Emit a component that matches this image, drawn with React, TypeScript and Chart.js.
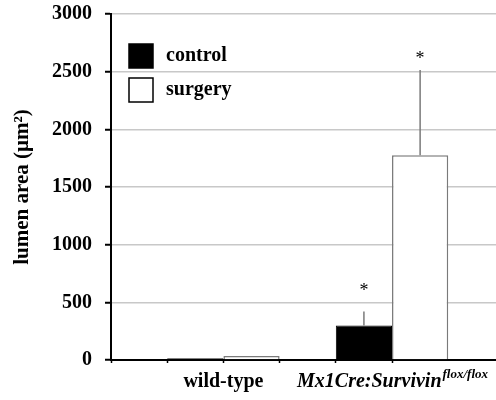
import { useEffect, useRef } from 'react';
import { Chart, registerables } from 'chart.js';

Chart.register(...registerables);

// ---- data ----
const categories = ['wild-type', 'Mx1Cre:Survivin'];
const categorySuperscripts = ['', 'flox/flox'];
const seriesNames = ['control', 'surgery'];
const controlValues = [15, 300];
const surgeryValues = [35, 1775];
const controlErrors = [0, 120];
const surgeryErrors = [0, 740];
// value (in µm²) at which a significance asterisk is placed; null = none
const controlStars: (number | null)[] = [null, 595];
const surgeryStars: (number | null)[] = [null, 2610];
const yMin = 0;
const yMax = 3000;
const yStep = 500;

const FONT = "'Liberation Serif', 'Times New Roman', serif";
const errorSets = [controlErrors, surgeryErrors];
const starSets = [controlStars, surgeryStars];
const legendStroke = '#000000';

// each category occupies 3 slot units on the x scale, group centred at 2 + 3*i
const groupX = (i: number) => 2 + 3 * i;

const errorBarPlugin = {
  id: 'errorBars',
  afterDatasetsDraw(chart: any) {
    const { ctx } = chart;
    const y = chart.scales.y;
    chart.data.datasets.forEach((ds: any, d: number) => {
      const meta = chart.getDatasetMeta(d);
      meta.data.forEach((el: any, i: number) => {
        const v = ds.data[i].y;
        const err = errorSets[d][i];
        ctx.save();
        if (err > 0) {
          ctx.strokeStyle = '#7a7a7a';
          ctx.lineWidth = 1.5;
          ctx.beginPath();
          ctx.moveTo(el.x, el.y);
          ctx.lineTo(el.x, y.getPixelForValue(v + err));
          ctx.stroke();
        }
        const s = starSets[d][i];
        if (s !== null && s !== undefined) {
          ctx.fillStyle = '#000';
          ctx.font = `18px ${FONT}`;
          ctx.textAlign = 'center';
          ctx.textBaseline = 'middle';
          ctx.fillText('*', el.x, y.getPixelForValue(s));
        }
        ctx.restore();
      });
    });
  },
};

const supLabelPlugin = {
  id: 'supLabels',
  afterDraw(chart: any) {
    const { ctx } = chart;
    const xs = chart.scales.x;
    const opts = xs.options;
    const yMid = xs.top + opts.grid.tickLength + opts.ticks.padding + 12;
    categories.forEach((c, i) => {
      const sup = categorySuperscripts[i];
      if (!sup) return;
      const cx = xs.getPixelForValue(groupX(i));
      ctx.save();
      ctx.fillStyle = '#000';
      ctx.textBaseline = 'middle';
      ctx.textAlign = 'left';
      ctx.font = `italic bold 20px ${FONT}`;
      const w1 = ctx.measureText(c).width;
      ctx.font = `italic bold 13px ${FONT}`;
      const w2 = ctx.measureText(sup).width;
      const start = cx - (w1 + w2) / 2;
      ctx.font = `italic bold 20px ${FONT}`;
      ctx.fillText(c, start, yMid);
      ctx.font = `italic bold 13px ${FONT}`;
      ctx.fillText(sup, start + w1 + 1, yMid - 7);
      ctx.restore();
    });
  },
};

// legend drawn inside the plot area, top-left, as in the original figure
const insideLegendPlugin = {
  id: 'insideLegend',
  afterDraw(chart: any) {
    const { ctx, chartArea } = chart;
    const box = 24;
    const rowGap = 34;
    const x0 = chartArea.left + 18;
    const y0 = chartArea.top + 30;
    chart.data.datasets.forEach((ds: any, i: number) => {
      const y = y0 + i * rowGap;
      ctx.save();
      ctx.fillStyle = ds.backgroundColor;
      ctx.fillRect(x0, y, box, box);
      ctx.strokeStyle = legendStroke;
      ctx.lineWidth = 1.5;
      ctx.strokeRect(x0, y, box, box);
      ctx.fillStyle = '#000';
      ctx.font = `bold 20px ${FONT}`;
      ctx.textAlign = 'left';
      ctx.textBaseline = 'middle';
      ctx.fillText(ds.label, x0 + box + 13, y + box / 2);
      ctx.restore();
    });
  },
};

export default function App() {
  const ref = useRef<HTMLCanvasElement | null>(null);
  useEffect(() => {
    if (!ref.current) return;
    const chart = new Chart(ref.current, {
      type: 'bar',
      data: {
        datasets: [
          {
            label: seriesNames[0],
            data: controlValues.map((v, i) => ({ x: groupX(i), y: v })),
            backgroundColor: '#000000',
            borderColor: '#000000',
            borderWidth: 1,
          },
          {
            label: seriesNames[1],
            data: surgeryValues.map((v, i) => ({ x: groupX(i), y: v })),
            backgroundColor: '#ffffff',
            borderColor: '#7a7a7a',
            borderWidth: 1.5,
          },
        ],
      },
      options: {
        animation: false,
        responsive: true,
        maintainAspectRatio: false,
        categoryPercentage: 2,
        barPercentage: 1,
        layout: { padding: { top: 14, bottom: 0, left: 0, right: 0 } },
        plugins: {
          tooltip: { enabled: false },
          legend: { display: false },
        },
        scales: {
          x: {
            type: 'linear',
            offset: false,
            min: 0,
            max: 6.85,
            afterBuildTicks: (s: any) => {
              s.ticks = s.ticks.filter((t: any) => Number.isInteger(t.value));
            },
            afterFit: (s: any) => {
              s.paddingLeft = 0;
              s.paddingRight = 0;
            },
            ticks: {
              stepSize: 1,
              autoSkip: false,
              maxRotation: 0,
              padding: 6.5,
              color: '#000',
              font: { family: FONT, size: 20, weight: 'bold' },
              callback: (v: any) => {
                const i = (Number(v) - 2) / 3;
                if (Number.isInteger(i) && i >= 0 && i < categories.length && !categorySuperscripts[i]) {
                  return categories[i];
                }
                return '';
              },
            },
            grid: {
              offset: false,
              drawOnChartArea: false,
              drawTicks: true,
              tickLength: 3,
              tickColor: '#000',
              tickWidth: 1.5,
            },
            border: { color: '#000', width: 2 },
          },
          y: {
            min: yMin,
            max: yMax,
            afterFit: (s: any) => {
              s.paddingTop = 0;
              s.paddingBottom = 0;
            },
            ticks: {
              stepSize: yStep,
              padding: 13,
              color: '#000',
              font: { family: FONT, size: 20, weight: 'bold' },
              callback: (v: any) => String(v),
            },
            grid: {
              color: '#c8c8c8',
              lineWidth: 1.5,
              tickLength: 6,
              tickColor: '#000',
              tickWidth: 2,
            },
            border: { color: '#000', width: 2 },
            title: {
              display: true,
              text: 'lumen area (µm²)',
              color: '#000',
              font: { family: FONT, size: 21, weight: 'bold' },
              padding: { top: 10, bottom: 3.8 },
            },
          },
        },
      } as any,
      plugins: [errorBarPlugin, supLabelPlugin, insideLegendPlugin],
    });
    return () => chart.destroy();
  }, []);
  return (
    <div style={{ position: 'fixed', left: 0, top: 0, width: 496, height: 400 }}>
      <canvas ref={ref} />
    </div>
  );
}
